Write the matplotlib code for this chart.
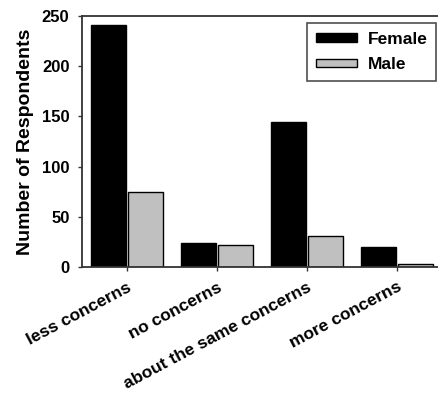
import matplotlib
matplotlib.use("Agg")
import matplotlib.pyplot as plt
import numpy as np

categories = ["less concerns", "no concerns", "about the same concerns", "more concerns"]
female = [241, 24, 144, 20]
male = [75, 22, 31, 3]
yticks = [0, 50, 100, 150, 200, 250]

plt.rcParams['font.family'] = ['Liberation Sans', 'DejaVu Sans']
plt.rcParams['font.weight'] = 'bold'

W, H = 438, 397
fig = plt.figure(figsize=(W / 100, H / 100), dpi=100)
ax = fig.add_axes([82 / W, (H - 267) / H, 360 / W, 251 / H])

x = np.arange(len(categories))
w = 0.39
off = 0.205
ax.bar(x - off, female, width=w, color='black', edgecolor='black', linewidth=1, label='Female')
ax.bar(x + off, male, width=w, color='#c0c0c0', edgecolor='black', linewidth=1, label='Male')

ax.set_xlim(-0.5, 3.5)
ax.set_ylim(0, 250)
ax.set_yticks(yticks)
ax.set_yticklabels([str(t) for t in yticks], fontsize=12, fontweight='bold')
ax.set_xticks(x)
ax.set_xticklabels(categories, rotation=28, ha='right', rotation_mode='anchor',
                   fontsize=12.5, fontweight='bold')
ax.tick_params(axis='both', direction='out', length=3, width=1, colors='#333333', labelcolor='black')
ax.tick_params(axis='x', pad=6)
ax.tick_params(axis='y', pad=6)
ax.set_ylabel('Number of Respondents', fontsize=14, fontweight='bold', labelpad=6)

for s in ['top', 'left', 'bottom']:
    ax.spines[s].set_linewidth(1.3)
    ax.spines[s].set_color('#333333')
ax.spines['right'].set_visible(False)

leg = ax.legend(loc='upper right', bbox_to_anchor=(436 / W, 1 - 23 / H), bbox_transform=fig.transFigure,
                frameon=True, fancybox=False,
                edgecolor='#222222', fontsize=12.5, handlelength=2.35, handleheight=0.35,
                borderpad=0.5, labelspacing=0.6, handletextpad=0.63, borderaxespad=0)
leg.get_frame().set_linewidth(1.2)
for t in leg.get_texts():
    t.set_fontweight('bold')

fig.savefig('out.png', dpi=100)
